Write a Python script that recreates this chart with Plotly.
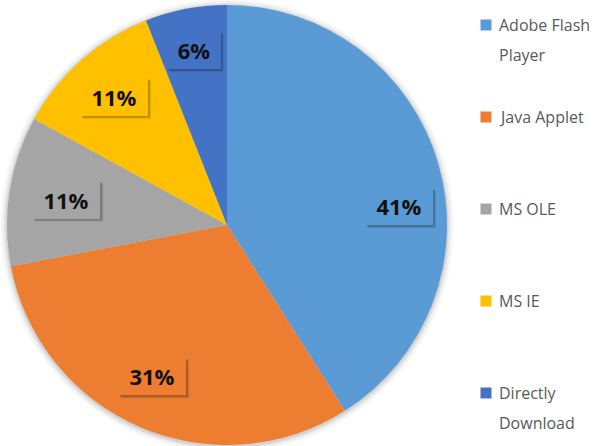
import math
import plotly.graph_objects as go

# ---- data ----
labels = ["Adobe Flash Player", "Java Applet", "MS OLE", "MS IE", "Directly Download"]
legend_text = ["Adobe Flash<br>Player", "Java Applet", "MS OLE", "MS IE", "Directly<br>Download"]
values = [41, 31, 11, 11, 6]
colors = ["#5B9BD5", "#ED7D31", "#A5A5A5", "#FFC000", "#4472C4"]

# ---- layout constants (pixels) ----
W, H = 597, 446
CX, CY, R = 227, 225, 220
label_rfrac = [0.786, 0.767, 0.74, 0.777, 0.81]
label_nudge_deg = [10, 3, 0, 0, 0]
BOX_H = 38

def px(x):
    return x / W

def py(y):
    return 1 - y / H

fig = go.Figure()
fig.add_trace(go.Pie(
    labels=labels,
    values=values,
    marker=dict(colors=colors, line=dict(width=0)),
    sort=False,
    direction="clockwise",
    rotation=0,
    textinfo="none",
    hoverinfo="label+percent",
    showlegend=False,
    domain=dict(x=[px(CX - R), px(CX + R)], y=[py(CY + R), py(CY - R)]),
))

shapes = []
# soft shadow around the pie
for k, a in [(7, 0.025), (5, 0.035), (3, 0.05), (1.5, 0.07)]:
    shapes.append(dict(type="circle", xref="paper", yref="paper", layer="below",
                       x0=px(CX - R - k), x1=px(CX + R + k),
                       y0=py(CY + R + k + 1), y1=py(CY - R - k + 1),
                       fillcolor=f"rgba(0,0,0,{a})", line=dict(width=0)))

annotations = []
total = sum(values)
cum = 0.0
for i, v in enumerate(values):
    mid = (cum + v / 2) / total * 360 + label_nudge_deg[i]
    cum += v
    r = label_rfrac[i] * R
    x = CX + r * math.sin(math.radians(mid))
    y = CY - r * math.cos(math.radians(mid))
    txt = f"{round(v / total * 100)}%"
    bw = 14 * len(txt) + 26
    # soft shadow on the right / bottom of the label box
    for off, a in [(3, 0.10), (2, 0.18)]:
        shapes.append(dict(type="rect", xref="paper", yref="paper", layer="above",
                           x0=px(x - bw / 2 + off), x1=px(x + bw / 2 + off),
                           y0=py(y + BOX_H / 2 + off), y1=py(y - BOX_H / 2 + off),
                           fillcolor=f"rgba(0,0,0,{a})", line=dict(width=0)))
    annotations.append(dict(xref="paper", yref="paper", x=px(x), y=py(y),
                            text=f"<b>{txt}</b>", showarrow=False,
                            xanchor="center", yanchor="middle",
                            width=bw, height=BOX_H, borderpad=0, borderwidth=0,
                            bgcolor=colors[i],
                            font=dict(family="Open Sans", size=22, color="#111111")))

# manual legend
LEG_TOP, LEG_STEP, LINE_STEP = 25, 92, 30
SQ_X, SQ = 486, 11
TXT_X = 497
for i, t in enumerate(legend_text):
    yc = LEG_TOP + i * LEG_STEP
    shapes.append(dict(type="rect", xref="paper", yref="paper",
                       x0=px(SQ_X - SQ / 2), x1=px(SQ_X + SQ / 2),
                       y0=py(yc + SQ / 2), y1=py(yc - SQ / 2),
                       fillcolor=colors[i], line=dict(width=0)))
    for j, line in enumerate(t.split("<br>")):
        annotations.append(dict(xref="paper", yref="paper",
                                x=px(TXT_X), y=py(yc + j * LINE_STEP),
                                text=line, showarrow=False,
                                xanchor="left", yanchor="middle",
                                font=dict(family="Open Sans", size=16, color="#595959")))

fig.update_layout(
    width=W, height=H,
    margin=dict(l=0, r=0, t=0, b=0),
    paper_bgcolor="white",
    plot_bgcolor="white",
    shapes=shapes,
    annotations=annotations,
    showlegend=False,
)

fig.write_html("out.html")
